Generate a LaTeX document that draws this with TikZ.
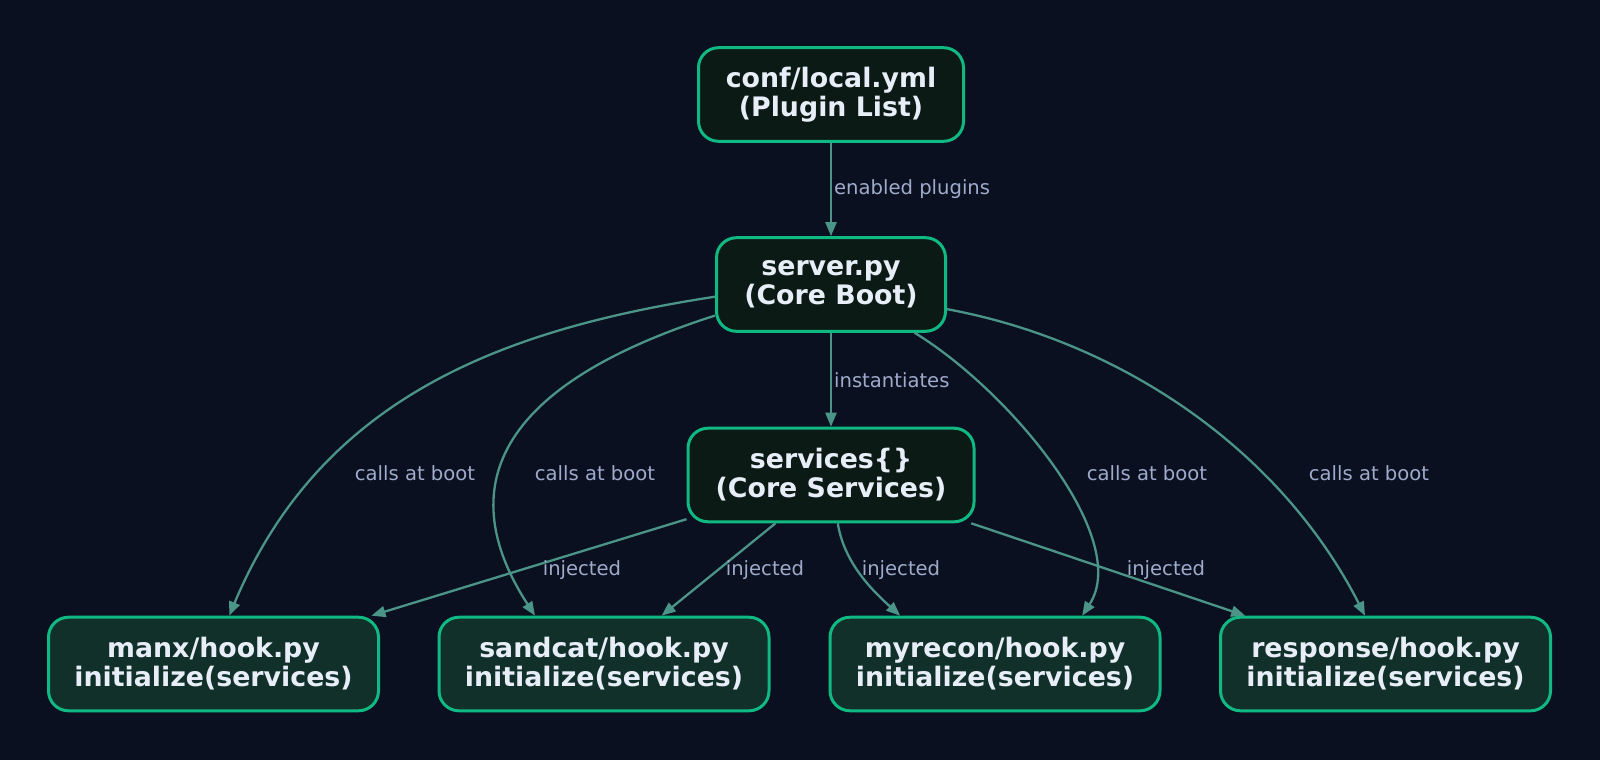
\documentclass[tikz,border=0pt]{standalone}
\usepackage{fontspec}
\setmainfont{DejaVu Sans}
\usetikzlibrary{arrows.meta}
\definecolor{bgcol}{HTML}{0B1020}
\definecolor{boxline}{HTML}{10B981}
\definecolor{topfill}{HTML}{0C1A16}
\definecolor{hookfill}{HTML}{12302A}
\definecolor{boxtext}{HTML}{E8EEF8}
\definecolor{linkcol}{HTML}{4A9488}
\definecolor{lblcol}{HTML}{9EABCB}

\begin{document}
\begin{tikzpicture}[x=0.5pt,y=-0.5pt,
  box/.style={draw=boxline, line width=1.5pt, rounded corners=10pt, fill=topfill,
    text=boxtext, font=\bfseries\fontsize{13.4}{14.5}\selectfont, align=center,
    minimum height=46.8pt, inner sep=0pt},
  hook/.style={box, fill=hookfill, minimum width=165pt},
  link/.style={draw=linkcol, line width=1.15pt, -{Triangle[length=7pt,width=5.5pt]}},
  lbl/.style={text=lblcol, font=\fontsize{9.8}{11}\selectfont, inner sep=1pt}]
\fill[bgcol] (0,0) rectangle (1600,760);

% core nodes
\node[box, minimum width=132.5pt] (conf) at (831,94.5) {conf/local.yml\\(Plugin List)};
\node[box, minimum width=114.5pt] (server) at (831,284.5) {server.py\\(Core Boot)};
\node[box, minimum width=143pt] (services) at (831,475) {services\{\}\\(Core Services)};

% plugin hooks
\node[hook] (manx) at (213.5,664) {manx/hook.py\\initialize(services)};
\node[hook] (sandcat) at (604,664) {sandcat/hook.py\\initialize(services)};
\node[hook] (myrecon) at (995,664) {myrecon/hook.py\\initialize(services)};
\node[hook] (response) at (1385.5,664) {response/hook.py\\initialize(services)};

\draw[link] (conf) -- node[lbl, anchor=west] (enab) {enabled plugins} (server);
\draw[link] (server) -- node[lbl, anchor=west] (inst) {instantiates} (services);

% boot calls
\draw[link] (server.186) .. controls +(-215,33) and +(91,-217) .. (manx.72);
\draw[link] (server.195) .. controls +(-235,75) and +(-76,-117) .. (sandcat.145);
\draw[link] (server.330) .. controls +(95,58) and +(50,-77) .. (myrecon.29);
\draw[link] (server.348) .. controls +(173,32) and +(-85,-167) .. (response.113);
\node[lbl, anchor=base] (callA) at (415,480) {calls at boot};
\node[lbl, anchor=base] (callB) at (595,480) {calls at boot};
\node[lbl, anchor=base] (callC) at (1147,480) {calls at boot};
\node[lbl, anchor=base] (callD) at (1369,480) {calls at boot};

% injection
\draw[link] (services.197) -- (manx.17);
\draw[link] (services.221) -- (sandcat.40);
\draw[link] (services.278) .. controls +(6,38) and +(-30,-27) .. (myrecon.153);
\draw[link] (services.341) -- (response.161);
\node[lbl, anchor=base] (injA) at (582,575) {injected};
\node[lbl, anchor=base] (injB) at (765,575) {injected};
\node[lbl, anchor=base] (injC) at (901,575) {injected};
\node[lbl, anchor=base] (injD) at (1166,575) {injected};
\end{tikzpicture}
\end{document}
